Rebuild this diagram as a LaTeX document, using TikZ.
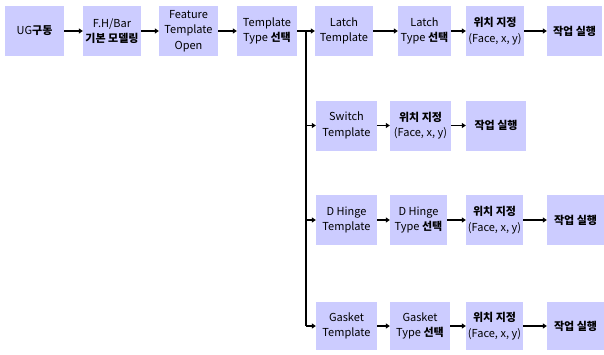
\documentclass[tikz,border=0pt]{standalone}
\usepackage{fontspec}
\setmainfont{Noto Sans CJK KR}
\usetikzlibrary{arrows.meta}
\definecolor{boxfill}{HTML}{CCCCFF}
\begin{document}
\begin{tikzpicture}[x=1pt,y=-1pt,
  box/.style={fill=boxfill, draw=none, minimum width=#1, minimum height=50pt, align=center, inner sep=0pt,
    font=\fontsize{11}{15.5}\selectfont},
  box/.default=59pt,
  arr/.style={line width=1.6pt, -{Triangle[length=4pt,width=5pt]}}]
\useasboundingbox (0,0) rectangle (604,354);
% row 1
\node[box=59pt] (ug) at (34.5,31) {UG\textbf{구동}};
\node[box=58pt] (fh) at (112,31) {F.H/Bar\\\textbf{기본 모델링}};
\node[box=59pt] (ft) at (188.5,31) {Feature\\Template\\Open};
\node[box=60pt] (tt) at (267,31) {Template\\Type \textbf{선택}};
\node[box=58pt] (lt) at (344,31) {Latch\\Template};
\node[box=53pt] (ly) at (424.5,31) {Latch\\Type \textbf{선택}};
\node[box=58pt] (lp) at (495,31) {\textbf{위치 지정}\\(Face, x, y)};
\node[box=55pt] (lr) at (574.5,31) {\textbf{작업 실행}};
% row 2
\node[box=61pt] (st) at (346.5,125.5) {Switch\\Template};
\node[box=61pt] (sp) at (420.5,125.5) {\textbf{위치 지정}\\(Face, x, y)};
\node[box=60pt] (sr) at (496,125.5) {\textbf{작업 실행}};
% row 3
\node[box=61pt] (dt) at (346.5,220) {D Hinge\\Template};
\node[box=57pt] (dy) at (418.5,220) {D Hinge\\Type \textbf{선택}};
\node[box=57pt] (dp) at (494.5,220) {\textbf{위치 지정}\\(Face, x, y)};
\node[box=57pt] (dr) at (575.5,220) {\textbf{작업 실행}};
% row 4
\node[box=61pt, minimum height=48pt] (gt) at (346.5,326) {Gasket\\Template};
\node[box=60pt, minimum height=48pt] (gy) at (420,326) {Gasket\\Type \textbf{선택}};
\node[box=57pt, minimum height=48pt] (gp) at (494.5,326) {\textbf{위치 지정}\\(Face, x, y)};
\node[box=57pt, minimum height=48pt] (gr) at (575.5,326) {\textbf{작업 실행}};
% connectors
\draw[arr] (ug) -- (fh);
\draw[arr] (fh) -- (ft);
\draw[arr] (ft) -- (tt);
\coordinate (bus) at (306,31);
\coordinate (b2) at (306,125.5);
\coordinate (b3) at (306,220);
\coordinate (b4) at (306,326);
\draw[line width=1.6pt] (tt.east) -- (bus);
\draw[arr] (bus) -- (lt);
\draw[line width=1.6pt] (bus) -- (b4);
\draw[arr] (b2) -- (st);
\draw[arr] (b3) -- (dt);
\draw[arr] (b4) -- (gt);
\draw[arr] (lt) -- (ly);
\draw[arr] (ly) -- (lp);
\draw[arr] (lp) -- (lr);
\draw[arr] (st) -- (sp);
\draw[arr] (sp) -- (sr);
\draw[arr] (dt) -- (dy);
\draw[arr] (dy) -- (dp);
\draw[arr] (dp) -- (dr);
\draw[arr] (gt) -- (gy);
\draw[arr] (gy) -- (gp);
\draw[arr] (gp) -- (gr);
\end{tikzpicture}
\end{document}
